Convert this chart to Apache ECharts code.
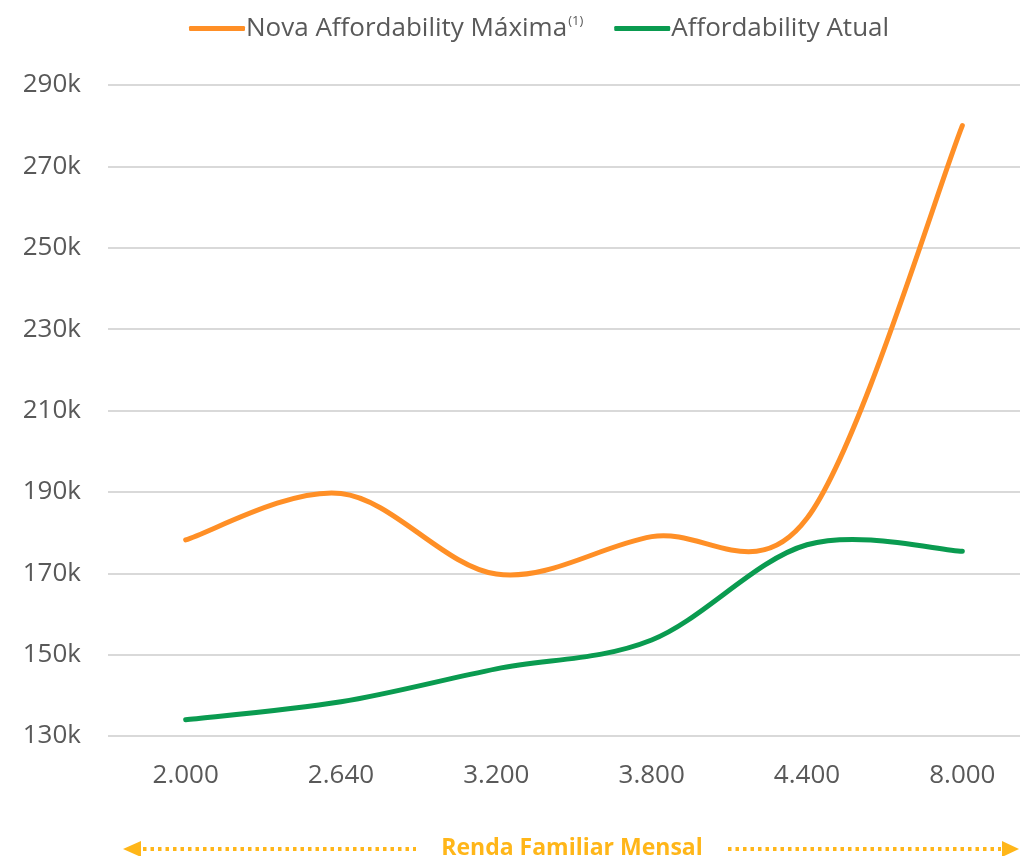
<!DOCTYPE html>
<html>
<head>
<meta charset="utf-8">
<script src="https://cdn.jsdelivr.net/npm/echarts@6/dist/echarts.min.js"></script>
<style>
  html, body { margin: 0; padding: 0; background: #ffffff; overflow: hidden; }
  /* the plot area runs a little past the right edge of the page */
  #chart { width: 1040px; height: 856px; }
</style>
</head>
<body>
<div id="chart"></div>
<script>
// Monthly household income brackets (R$)
const categories = ['2.000', '2.640', '3.200', '3.800', '4.400', '8.000'];
// Maximum affordable property value under the new rules (thousands)
const novaAffordability = [178.2, 189.6, 169.8, 179.0, 183.5, 280.0];
// Current affordable property value (thousands)
const affordabilityAtual = [134.0, 138.4, 146.5, 153.6, 177.0, 175.4];
// Value axis range
const yMin = 130, yMax = 290, yStep = 20;

const ORANGE = '#FF8F26';
const GREEN = '#0A9B50';
const GOLD = '#FFB619';
const TEXT = '#595959';
const FONT = 'Open Sans';

// Cardinal (Catmull-Rom) spline through the projected points, drawn as cubic Béziers
function splinePath(pts) {
  const n = pts.length;
  let d = 'M' + pts[0][0] + ',' + pts[0][1];
  for (let i = 0; i < n - 1; i++) {
    const p0 = pts[Math.max(i - 1, 0)];
    const p1 = pts[i];
    const p2 = pts[i + 1];
    const p3 = pts[Math.min(i + 2, n - 1)];
    const c1x = p1[0] + (p2[0] - p0[0]) / 6;
    const c1y = p1[1] + (p2[1] - p0[1]) / 6;
    const c2x = p2[0] - (p3[0] - p1[0]) / 6;
    const c2y = p2[1] - (p3[1] - p1[1]) / 6;
    d += ' C' + c1x + ',' + c1y + ' ' + c2x + ',' + c2y + ' ' + p2[0] + ',' + p2[1];
  }
  return d;
}

function curveSeries(name, values, color) {
  return {
    name: name,
    type: 'custom',
    data: values.map(function (v, i) { return [i, v]; }),
    encode: { x: 0, y: 1 },
    itemStyle: { color: color },
    clip: false,
    renderItem: function (params, api) {
      if (params.dataIndex !== 0) return null;
      const pts = values.map(function (v, i) { return api.coord([i, v]); });
      return {
        type: 'path',
        shape: { pathData: splinePath(pts) },
        style: { fill: 'none', stroke: color, lineWidth: 5, lineCap: 'round', lineJoin: 'round' }
      };
    }
  };
}

const chart = echarts.init(document.getElementById('chart'), null, { renderer: 'canvas' });

chart.setOption({
  animation: false,
  backgroundColor: '#ffffff',
  textStyle: { fontFamily: FONT },
  legend: {
    top: 10,
    left: 184,
    itemWidth: 56,
    itemHeight: 5,
    itemGap: 31,
    icon: 'roundRect',
    textStyle: {
      color: TEXT,
      fontSize: 26,
      fontFamily: FONT,
      padding: [0, 0, 0, -4],
      rich: {
        sup: { fontSize: 13, color: TEXT, fontFamily: FONT, verticalAlign: 'top', padding: [0, 0, 14, 1] }
      }
    },
    formatter: function (name) {
      return name === 'Nova Affordability Máxima' ? name + '{sup|(1)}' : name;
    },
    data: [
      { name: 'Nova Affordability Máxima', itemStyle: { color: ORANGE } },
      { name: 'Affordability Atual', itemStyle: { color: GREEN } }
    ]
  },
  grid: { left: 108, right: 0, top: 85, height: 651, containLabel: false },
  xAxis: {
    type: 'category',
    data: categories,
    boundaryGap: true,
    axisLine: { show: false },
    axisTick: { show: false },
    axisLabel: { color: TEXT, fontSize: 26, margin: 27, fontFamily: FONT }
  },
  yAxis: {
    type: 'value',
    min: yMin,
    max: yMax,
    interval: yStep,
    axisLine: { show: false },
    axisTick: { show: false },
    axisLabel: {
      color: TEXT, fontSize: 26, margin: 27, fontFamily: FONT,
      formatter: function (v) { return v + 'k'; }
    },
    splitLine: { lineStyle: { color: '#D9D9D9', width: 2 } }
  },
  series: [
    curveSeries('Nova Affordability Máxima', novaAffordability, ORANGE),
    curveSeries('Affordability Atual', affordabilityAtual, GREEN)
  ],
  graphic: [
    {
      type: 'text',
      x: 572,
      y: 837,
      style: {
        text: 'Renda Familiar Mensal',
        fill: GOLD,
        font: 'bold 23px "Open Sans"',
        textAlign: 'center',
        textVerticalAlign: 'top'
      }
    },
    // dotted guide lines with arrowheads either side of the axis title
    {
      type: 'line',
      shape: { x1: 143, y1: 849, x2: 416, y2: 849 },
      style: { stroke: GOLD, lineWidth: 4, lineDash: [3.5, 4] }
    },
    {
      type: 'polygon',
      shape: { points: [[123, 849], [141, 841], [141, 857]] },
      style: { fill: GOLD }
    },
    {
      type: 'line',
      shape: { x1: 728, y1: 849, x2: 1001, y2: 849 },
      style: { stroke: GOLD, lineWidth: 4, lineDash: [3.5, 4] }
    },
    {
      type: 'polygon',
      shape: { points: [[1019, 849], [1002, 841], [1002, 857]] },
      style: { fill: GOLD }
    }
  ]
});
</script>
</body>
</html>
